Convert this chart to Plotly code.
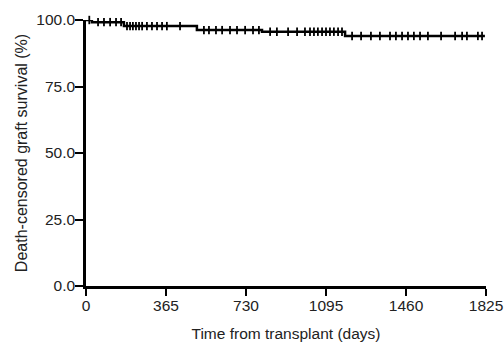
import plotly.graph_objects as go

# Kaplan-Meier step data (days, survival %)
event_days = [0, 27, 173, 506, 803, 1182, 1820]
survival = [100.0, 99.2, 97.7, 96.2, 95.6, 94.0, 94.0]

# Censored observations (days)
censor_days = [15, 55, 82, 110, 137, 160,
               187, 201, 214, 228, 242, 256, 278, 301, 324, 347, 369, 429,
               538, 561, 593, 621, 657, 689, 726, 762, 789,
               840, 871, 922, 963, 999, 1022, 1040, 1058, 1077, 1095, 1113, 1131, 1150, 1168,
               1214, 1255, 1300, 1341, 1387, 1414, 1442, 1469, 1496, 1524, 1560, 1620,
               1684, 1716, 1738, 1788, 1807]

x_ticks = [0, 365, 730, 1095, 1460, 1825]
y_ticks = [0, 25, 50, 75, 100]
y_tick_labels = ["0.0", "25.0", "50.0", "75.0", "100.0"]


def surv_at(t):
    s = survival[0]
    for d, v in zip(event_days, survival):
        if d <= t:
            s = v
    return s


censor_surv = [surv_at(t) for t in censor_days]

fig = go.Figure()
fig.add_trace(go.Scatter(
    x=event_days, y=survival, mode="lines",
    line=dict(shape="hv", color="black", width=2.5),
    cliponaxis=False, hoverinfo="skip", showlegend=False))
fig.add_trace(go.Scatter(
    x=censor_days, y=censor_surv, mode="markers",
    marker=dict(symbol="line-ns-open", size=6, color="black", line=dict(color="black", width=1.8)),
    cliponaxis=False, showlegend=False))

font = "Liberation Sans, Arial, sans-serif"
fig.update_layout(
    width=504, height=343,
    margin=dict(l=86, r=18, t=20, b=57),
    paper_bgcolor="white", plot_bgcolor="white",
    font=dict(family=font, color="#222", size=15.5),
    xaxis=dict(range=[0, 1825], tickvals=x_ticks, ticks="outside", ticklen=7, tickwidth=2,
               tickcolor="black", showline=True, linecolor="black", linewidth=2.5,
               showgrid=False, zeroline=False, automargin=False, ticklabeloverflow="allow",
               ticklabelstandoff=-3,
               title=dict(text="Time from transplant (days)", font=dict(size=15.5), standoff=15)),
    yaxis=dict(range=[0, 100], tickvals=y_ticks, ticktext=y_tick_labels, ticks="outside",
               ticklen=8, tickwidth=2, tickcolor="black", showline=True, linecolor="black",
               linewidth=2.5, showgrid=False, zeroline=False, automargin=False,
               ticklabeloverflow="allow", ticklabelstandoff=-3,
               title=dict(text="Death-censored graft survival (%)", font=dict(size=16), standoff=5)),
)
fig.write_html("out.html", config={"displayModeBar": False},
               post_script="document.body.style.margin='0';")
